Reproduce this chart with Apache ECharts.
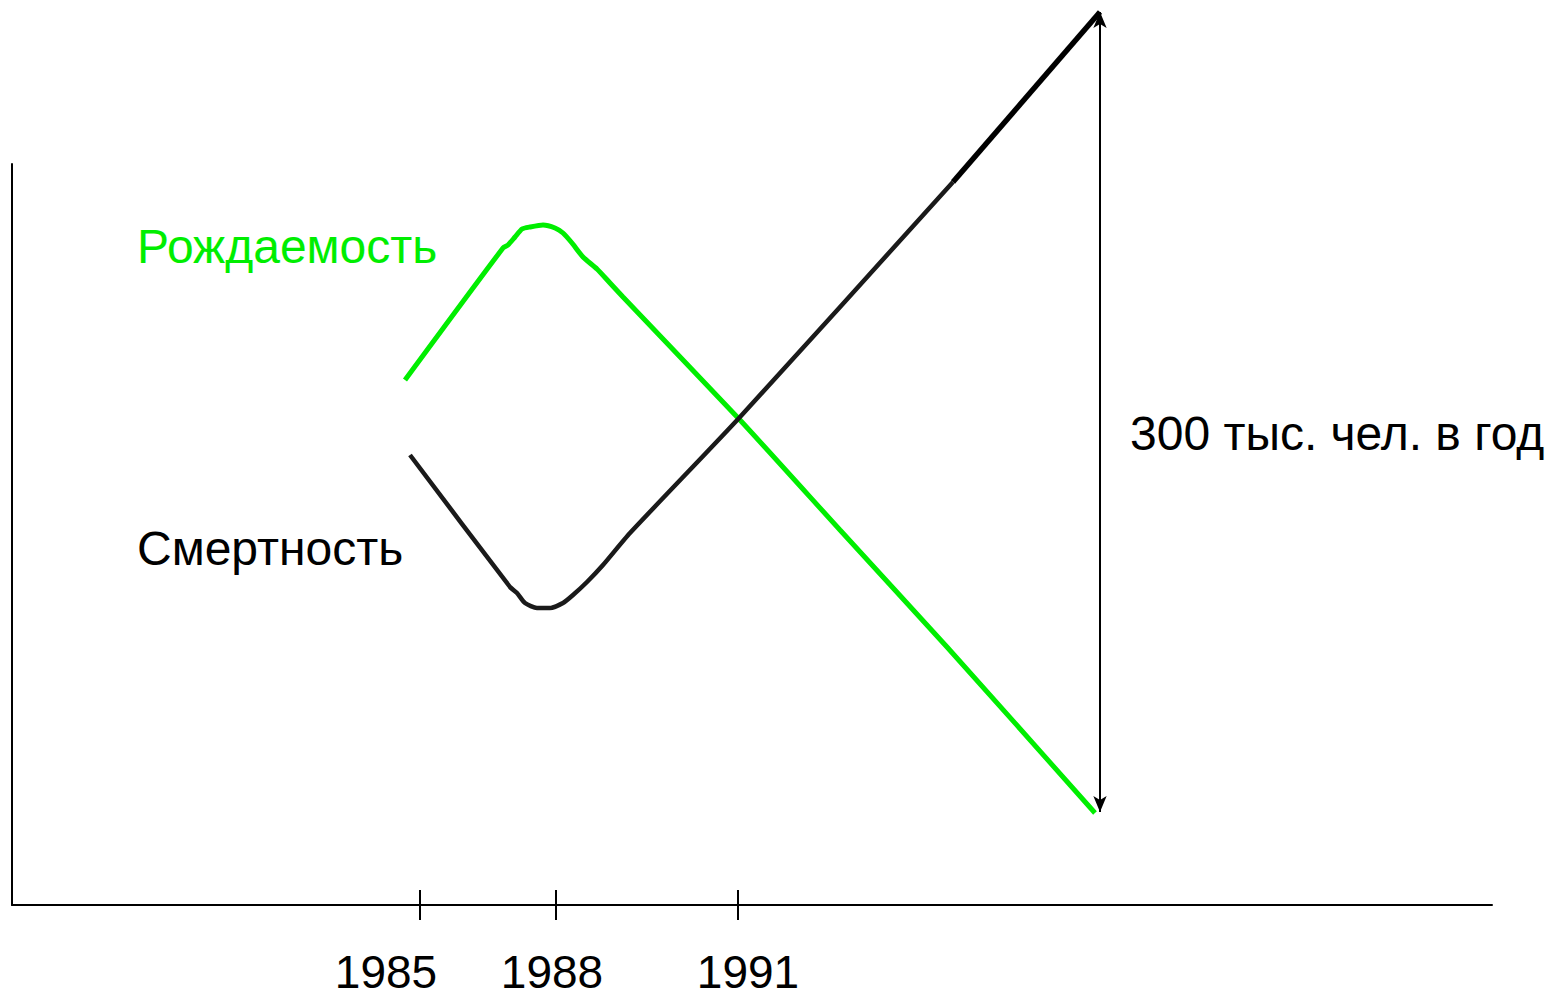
<!DOCTYPE html>
<html>
<head>
<meta charset="utf-8">
<script src="https://cdn.jsdelivr.net/npm/echarts@6/dist/echarts.min.js"></script>
<style>
  html, body { margin: 0; padding: 0; background: #fff; }
  #chart { width: 1546px; height: 997px; }
</style>
</head>
<body>
<div id="chart"></div>
<script>
// hand-drawn scheme, axis units are arbitrary (x: time, y: people per year)
const years = ['1985', '1988', '1991']
const yearTicks = [408, 544, 726]
const yearLabelAt = [374, 540, 736]

// Рождаемость
const birthData = [
  [393, 525], [491, 657], [496, 660], [503, 668], [510, 676], [518, 678],
  [531, 680], [543, 677], [551, 672], [560, 662], [571, 648], [585, 636],
  [598, 622], [611, 608], [728, 485], [828, 375], [935, 258], [1083, 92]
]
// Смертность
const deathData = [
  [398, 450], [498, 318], [505, 312], [513, 302], [525, 297], [538, 297],
  [551, 302], [561, 310], [575, 323], [591, 340], [618, 372], [728, 488],
  [941, 723]
]
const deathTail = [[941, 723], [1088, 893]]

// span arrow: 300 тыс. чел. в год
const spanX = 1088
const spanFrom = 93
const spanTo = 893

const green = '#00ee00'
const font = '"Liberation Sans", Arial, sans-serif'

const chart = echarts.init(document.getElementById('chart'), null, { renderer: 'svg' })

const option = {
  backgroundColor: '#fff',
  animation: false,
  grid: { left: 12, right: 54, top: 164, bottom: 92 },
  xAxis: [
    {
      type: 'value',
      min: 0,
      max: 1480,
      axisLine: { show: true, lineStyle: { color: '#000', width: 2 } },
      axisTick: { show: true, customValues: yearTicks, length: 15, lineStyle: { color: '#000', width: 2 } },
      axisLabel: {
        customValues: yearLabelAt,
        formatter: v => years[yearLabelAt.indexOf(v)] || '',
        color: '#000',
        fontSize: 46,
        fontFamily: font,
        margin: 44
      },
      splitLine: { show: false }
    },
    {
      type: 'value',
      min: 0,
      max: 1480,
      position: 'bottom',
      axisLine: { show: false },
      axisTick: { show: true, inside: true, customValues: yearTicks, length: 15, lineStyle: { color: '#000', width: 2 } },
      axisLabel: { show: false },
      splitLine: { show: false }
    }
  ],
  yAxis: {
    type: 'value',
    min: 0,
    max: 741,
    axisLine: { show: true, lineStyle: { color: '#000', width: 2 } },
    axisTick: { show: false },
    axisLabel: { show: false },
    splitLine: { show: false }
  },
  series: [
    {
      name: 'Рождаемость',
      type: 'line',
      data: birthData,
      clip: false,
      symbol: 'none',
      smooth: 0.2,
      lineStyle: { color: green, width: 5 }
    },
    {
      name: 'Смертность',
      type: 'line',
      data: deathData,
      clip: false,
      symbol: 'none',
      smooth: 0.2,
      lineStyle: { color: '#1a1a1a', width: 4.5 }
    },
    {
      name: 'Смертность',
      type: 'line',
      data: deathTail,
      clip: false,
      symbol: 'none',
      lineStyle: { color: '#000', width: 5.5 }
    },
    {
      name: 'span',
      type: 'line',
      clip: false,
      silent: true,
      data: [
        { value: [spanX, spanFrom], symbolRotate: 180 },
        { value: [spanX, spanTo], symbolRotate: 0 }
      ],
      symbol: 'arrow',
      symbolSize: [10, 16],
      itemStyle: { color: '#000' },
      lineStyle: { color: '#000', width: 2 }
    }
  ],
  graphic: [
    {
      type: 'text', left: 137, top: 222,
      style: { text: 'Рождаемость', fill: green, fontSize: 48, fontFamily: font }
    },
    {
      type: 'text', left: 137, top: 524,
      style: { text: 'Смертность', fill: '#000', fontSize: 48, fontFamily: font }
    },
    {
      type: 'text', left: 1130, top: 409,
      style: { text: '300 тыс. чел. в год', fill: '#000', fontSize: 48, fontFamily: font }
    }
  ]
}

chart.setOption(option)
</script>
</body>
</html>
